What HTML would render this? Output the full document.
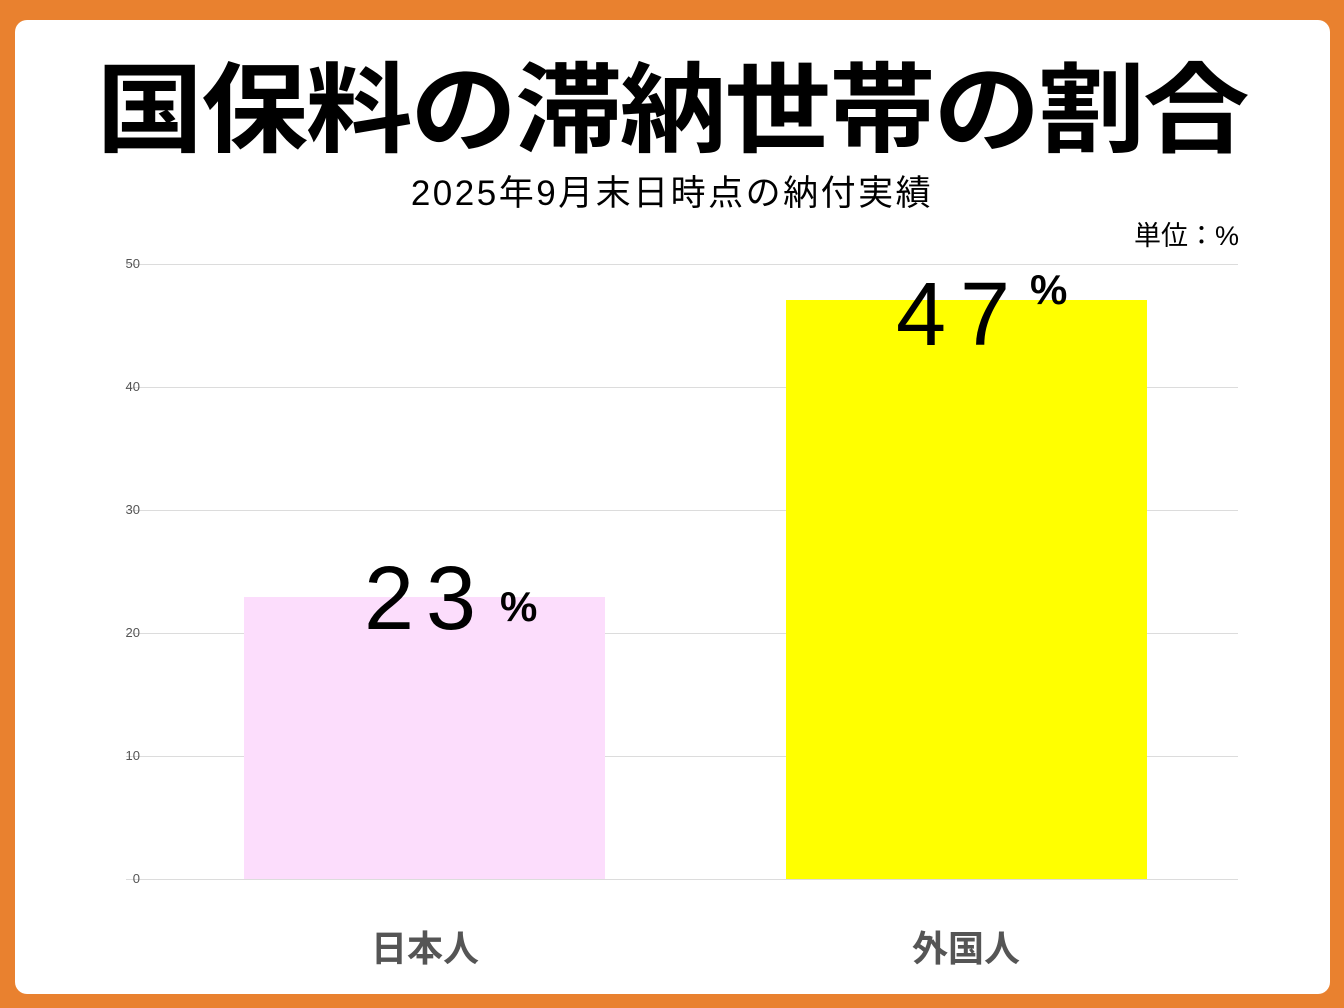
<!DOCTYPE html>
<html><head><meta charset="utf-8"><style>
html,body{margin:0;padding:0}
body{width:1344px;height:1008px;background:#E9812F;position:relative;overflow:hidden;font-family:"Liberation Sans","Noto Sans CJK JP",sans-serif}
.panel{position:absolute;left:15px;top:20px;width:1315px;height:974px;background:#fff;border-radius:12px}
.t{position:absolute;white-space:nowrap}
.grid{position:absolute;left:126px;width:1112px;height:1px;background:#dcdcdc}
.yl{position:absolute;width:30px;left:110px;text-align:right;font-size:13px;color:#555}
</style></head><body>
<div class="panel"></div>
<div class="t" style="left:0;width:1344px;text-align:center;top:42px;font-size:98px;letter-spacing:-2px;font-weight:bold;line-height:120px;font-family:'Noto Sans CJK JP',sans-serif;color:#000;transform:scaleX(1.09);transform-origin:672px 0">国保料の滞納世帯の割合</div>
<div class="t" style="left:0;width:1344px;text-align:center;top:172px;font-size:35px;letter-spacing:2.5px;line-height:44px;color:#000">2025年9月末日時点の納付実績</div>
<div class="t" style="right:105px;top:220px;font-size:27px;line-height:32px;color:#000">単位：%</div>

<div class="grid" style="top:264px"></div>
<div class="grid" style="top:387px"></div>
<div class="grid" style="top:510px"></div>
<div class="grid" style="top:633px"></div>
<div class="grid" style="top:756px"></div>
<div class="grid" style="top:879px"></div>
<div class="yl" style="top:256px">50</div>
<div class="yl" style="top:379px">40</div>
<div class="yl" style="top:502px">30</div>
<div class="yl" style="top:625px">20</div>
<div class="yl" style="top:748px">10</div>
<div class="yl" style="top:871px">0</div>

<div style="position:absolute;left:244px;top:597px;width:361px;height:282px;background:#FCDDFC"></div>
<div style="position:absolute;left:786px;top:300px;width:361px;height:579px;background:#FFFF00"></div>

<div class="t" style="left:364px;top:549px;font-size:90px;line-height:100px;letter-spacing:12px;color:#000">23</div>
<div class="t" style="left:500px;top:584px;font-size:42px;line-height:46px;font-weight:bold;color:#000">%</div>
<div class="t" style="left:896px;top:265px;font-size:90px;line-height:100px;letter-spacing:14px;color:#000">47</div>
<div class="t" style="left:1030px;top:267px;font-size:42px;line-height:46px;font-weight:bold;color:#000">%</div>

<div class="t" style="left:275px;width:300px;text-align:center;top:926px;font-size:36px;line-height:46px;font-weight:bold;color:#555">日本人</div>
<div class="t" style="left:816px;width:300px;text-align:center;top:926px;font-size:36px;line-height:46px;font-weight:bold;color:#555">外国人</div>
</body></html>
